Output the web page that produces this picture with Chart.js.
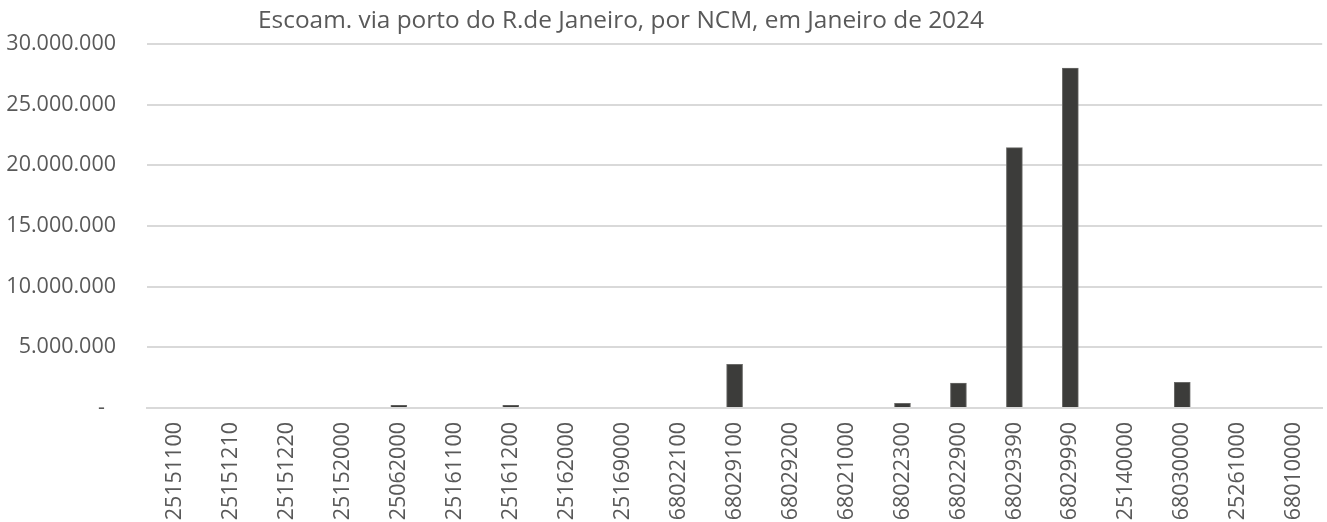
<!DOCTYPE html>
<html>
<head>
<meta charset="utf-8">
<script src="https://cdn.jsdelivr.net/npm/chart.js"></script>
<style>
    html, body { margin: 0; padding: 0; background: #ffffff; overflow: hidden; }
    /* the plot area runs a little past the right edge, like the cropped original */
    #wrap { width: 1327px; height: 522px; overflow: hidden; }
</style>
</head>
<body>
<div id="wrap"><canvas id="chart" width="1334" height="522"></canvas></div>
<script>
// NCM codes and exported volume (Jan 2024)
const ncmCodes = [
    '25151100', '25151210', '25151220', '25152000', '25062000', '25161100', '25161200',
    '25162000', '25169000', '68022100', '68029100', '68029200', '68021000', '68022300',
    '68022900', '68029390', '68029990', '25140000', '68030000', '25261000', '68010000'
];
const volumes = [
    0, 0, 0, 0, 220000, 0, 220000,
    0, 0, 0, 3600000, 0, 0, 380000,
    2050000, 21450000, 28000000, 0, 2120000, 0, 0
];
const yTicks = [0, 5000000, 10000000, 15000000, 20000000, 25000000, 30000000];

const chartTitle = 'Escoam. via porto do R.de Janeiro, por NCM, em Janeiro de 2024';
const textColor = '#595959';
const fontFamily = '"Open Sans", "DejaVu Sans", sans-serif';

// excel accounting style: zero shows as a dash
const fmt = (v) => v === 0 ? '-  ' : v.toLocaleString('pt-BR');

// title sits left of the plot center, like the excel original
const titlePlugin = {
    id: 'excelTitle',
    afterDraw(chart) {
        const ctx = chart.ctx;
        ctx.save();
        ctx.fillStyle = textColor;
        ctx.font = '24.4px ' + fontFamily;
        ctx.textAlign = 'center';
        ctx.textBaseline = 'middle';
        ctx.fillText(chartTitle, 621, 21);
        ctx.restore();
    }
};

new Chart(document.getElementById('chart').getContext('2d'), {
    type: 'bar',
    data: {
        labels: ncmCodes,
        datasets: [{
            data: volumes,
            backgroundColor: '#3c3c3a',
            borderColor: '#6a6a68',
            borderWidth: 1,
            barThickness: 16
        }]
    },
    options: {
        responsive: false,
        animation: false,
        layout: {padding: {top: 42, right: 0, left: 0, bottom: 0}},
        plugins: {
            legend: {display: false},
            title: {display: false},
            tooltip: {enabled: false}
        },
        scales: {
            x: {
                grid: {display: false, drawTicks: false},
                border: {display: true, color: '#d9d9d9', width: 2},
                ticks: {
                    color: textColor,
                    font: {family: fontFamily, size: 21.5},
                    minRotation: 90,
                    maxRotation: 90,
                    autoSkip: false,
                    padding: 14
                },
                afterFit: (scale) => { scale.height = 114; }
            },
            y: {
                min: 0,
                max: 30000000,
                afterBuildTicks: (scale) => { scale.ticks = yTicks.map(v => ({value: v})); },
                grid: {color: '#d9d9d9', lineWidth: 2, drawTicks: false},
                border: {display: false},
                ticks: {
                    color: textColor,
                    font: {family: fontFamily, size: 21.5},
                    padding: 31,
                    callback: (v) => fmt(v)
                },
                afterFit: (scale) => { scale.width = 147; }
            }
        }
    },
    plugins: [titlePlugin]
});
</script>
</body>
</html>
